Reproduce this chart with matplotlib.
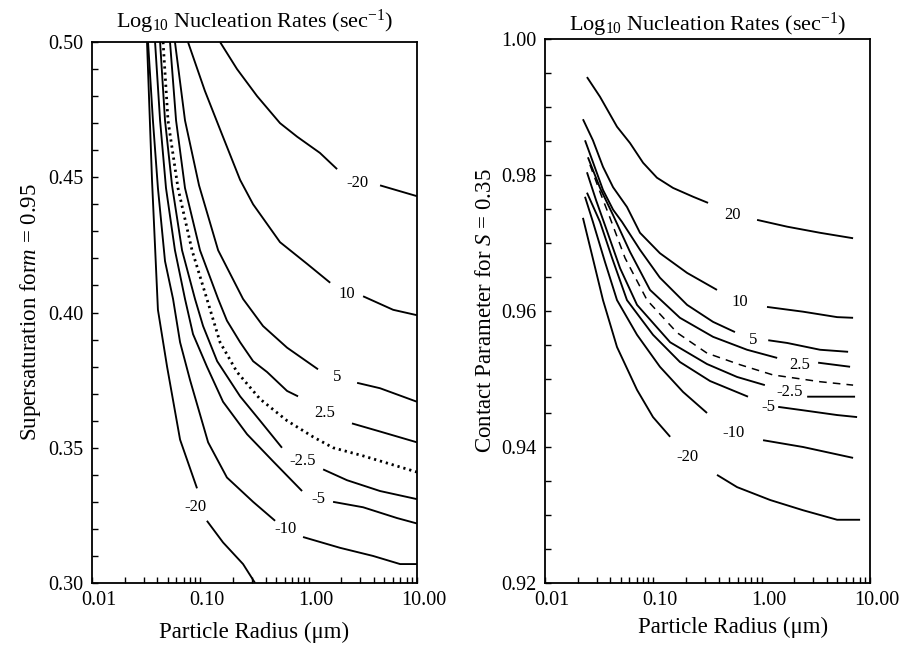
import numpy as np
import matplotlib
matplotlib.use('Agg')
import matplotlib.pyplot as plt
import matplotlib.transforms as mtransforms

plt.rcParams['font.family'] = ['Liberation Serif', 'DejaVu Serif']
plt.rcParams['mathtext.fontset'] = 'custom'
plt.rcParams['mathtext.rm'] = 'Liberation Serif'
plt.rcParams['mathtext.it'] = 'Liberation Serif:italic'
plt.rcParams['mathtext.bf'] = 'Liberation Serif:bold'

nan = np.nan

# ---------------- Left panel: supersaturation vs particle radius ----------------
L_r_m20 = [0.0322, 0.0358, 0.0406, 0.0493, 0.0650, 0.0932, nan, 0.115, 0.162, 0.248, 0.320]
L_s_m20 = [0.500, 0.449, 0.401, 0.380, 0.353, 0.335, nan, 0.323, 0.315, 0.307, 0.300]
L_r_m10 = [0.0329, 0.0365, 0.0406, 0.0472, 0.0560, 0.0650, 0.0804, 0.118, 0.176, 0.307, 0.490, nan, 0.887, 1.95, 3.93, 6.98, 10.0]
L_s_m10 = [0.500, 0.471, 0.446, 0.419, 0.405, 0.389, 0.375, 0.352, 0.339, 0.330, 0.323, nan, 0.317, 0.313, 0.310, 0.307, 0.307]
L_r_m5 = [0.0382, 0.0425, 0.0482, 0.0583, 0.0722, 0.0856, 0.115, 0.162, 0.270, 0.469, 0.869, nan, 1.68, 3.18, 6.55, 10.0]
L_s_m5 = [0.500, 0.471, 0.446, 0.423, 0.405, 0.392, 0.380, 0.367, 0.355, 0.345, 0.334, nan, 0.330, 0.328, 0.324, 0.322]
L_r_m25 = [0.0425, 0.0472, 0.0548, 0.0678, 0.0893, 0.106, 0.143, 0.233, 0.356, 0.567, nan, 1.36, 2.26, 4.56, 10.0]
L_s_m25 = [0.500, 0.471, 0.447, 0.423, 0.405, 0.395, 0.382, 0.369, 0.360, 0.350, nan, 0.342, 0.338, 0.334, 0.331]
L_r_0 = [0.0453, 0.0503, 0.0622, 0.0838, 0.115, 0.152, 0.218, 0.356, 0.632, 1.10, 1.68, 3.18, 10.0]
L_s_0 = [0.500, 0.471, 0.446, 0.423, 0.405, 0.389, 0.378, 0.368, 0.360, 0.354, 0.350, 0.347, 0.341]
L_r_p25 = [0.0525, 0.0597, 0.0722, 0.0993, 0.146, 0.176, 0.233, 0.307, 0.413, 0.632, 0.798, nan, 2.51, 4.56, 10.0]
L_s_p25 = [0.500, 0.471, 0.446, 0.423, 0.405, 0.397, 0.389, 0.382, 0.378, 0.371, 0.369, nan, 0.359, 0.356, 0.352]
L_r_p5 = [0.0583, 0.0722, 0.0973, 0.146, 0.248, 0.379, 0.632, 1.22, nan, 2.80, 4.56, 10.0]
L_s_p5 = [0.500, 0.471, 0.447, 0.423, 0.405, 0.395, 0.387, 0.379, nan, 0.374, 0.372, 0.367]
L_r_p10 = [0.0769, 0.110, 0.158, 0.233, 0.307, 0.544, 0.966, 1.58, nan, 3.18, 6.02, 10.0]
L_s_p10 = [0.500, 0.482, 0.466, 0.449, 0.440, 0.426, 0.418, 0.411, nan, 0.406, 0.401, 0.399]
L_r_p20 = [0.152, 0.218, 0.334, 0.544, 0.782, 1.27, 1.83, nan, 4.56, 10.0]
L_s_p20 = [0.500, 0.490, 0.480, 0.470, 0.465, 0.459, 0.453, nan, 0.447, 0.443]

L_label_text = ['-20', '-10', '-5', '-2.5', '2.5', '5', '10', '-20']
L_label_r = [0.0893, 0.605, 1.22, 0.887, 1.42, 1.83, 2.26, 2.80]
L_label_s = [0.328, 0.320, 0.331, 0.345, 0.363, 0.376, 0.407, 0.448]

# ---------------- Right panel: contact parameter vs particle radius ----------------
R_r_p20 = [0.0244, 0.0322, 0.0462, 0.0609, 0.0804, 0.108, 0.152, 0.233, 0.320, nan, 0.907, 1.72, 3.46, 6.98]
R_m_p20 = [0.9944, 0.9915, 0.9871, 0.9847, 0.9818, 0.9796, 0.9781, 0.9768, 0.9759, nan, 0.9734, 0.9724, 0.9715, 0.9707]
R_r_p10 = [0.0224, 0.0277, 0.0343, 0.0425, 0.0571, 0.0753, 0.115, 0.205, 0.387, nan, 1.12, 2.41, 4.97, 6.98]
R_m_p10 = [0.9882, 0.9851, 0.9812, 0.9782, 0.9753, 0.9715, 0.9685, 0.9656, 0.9631, nan, 0.9606, 0.9599, 0.9591, 0.9590]
R_r_p5 = [0.0234, 0.0277, 0.0343, 0.0425, 0.0514, 0.0753, 0.115, 0.205, 0.356, 0.567, nan, 1.15, 1.72, 3.46, 6.28]
R_m_p5 = [0.9851, 0.9819, 0.9778, 0.9749, 0.9731, 0.9690, 0.9649, 0.9609, 0.9584, 0.9569, nan, 0.9557, 0.9553, 0.9543, 0.9540]
R_r_p25 = [0.0249, 0.0322, 0.0425, 0.0609, 0.0932, 0.176, 0.356, 0.733, 1.39, nan, 3.32, 6.55]
R_m_p25 = [0.9826, 0.9781, 0.9741, 0.9687, 0.9631, 0.9590, 0.9562, 0.9543, 0.9531, nan, 0.9524, 0.9518]
R_r_0 = [0.0260, 0.0322, 0.0398, 0.0548, 0.0875, 0.166, 0.313, 0.631, 1.27, 3.46, 6.98]
R_m_0 = [0.9815, 0.9775, 0.9737, 0.9678, 0.9616, 0.9568, 0.9538, 0.9521, 0.9506, 0.9496, 0.9491]
R_r_m25 = [0.0244, 0.0296, 0.0358, 0.0493, 0.0707, 0.143, 0.313, 0.593, 1.07, nan, 2.63, 7.28]
R_m_m25 = [0.9804, 0.9763, 0.9726, 0.9663, 0.9609, 0.9554, 0.9522, 0.9503, 0.9491, nan, 0.9474, 0.9474]
R_r_m5 = [0.0244, 0.0322, 0.0416, 0.0571, 0.0993, 0.176, 0.334, 0.748, nan, 1.42, 2.41, 4.97, 7.60]
R_m_m5 = [0.9774, 0.9731, 0.9678, 0.9616, 0.9565, 0.9525, 0.9497, 0.9474, nan, 0.9459, 0.9454, 0.9447, 0.9444]
R_r_m10 = [0.0234, 0.0277, 0.0358, 0.0462, 0.0707, 0.115, 0.188, 0.313, nan, 1.03, 2.41, 6.98]
R_m_m10 = [0.9768, 0.9731, 0.9672, 0.9616, 0.9565, 0.9518, 0.9481, 0.9450, nan, 0.9410, 0.9400, 0.9384]
R_r_m20 = [0.0224, 0.0272, 0.0343, 0.0462, 0.0707, 0.0993, 0.143, nan, 0.387, 0.593, 1.20, 2.41, 4.97, 8.10]
R_m_m20 = [0.9737, 0.9682, 0.9616, 0.9547, 0.9484, 0.9444, 0.9415, nan, 0.9359, 0.9341, 0.9322, 0.9307, 0.9293, 0.9293]

R_label_text = ['20', '10', '5', '2.5', '-2.5', '-5', '-10', '-20']
R_label_r = [0.533, 0.631, 0.833, 2.26, 1.83, 1.15, 0.544, 0.205]
R_label_m = [0.9741, 0.9613, 0.9557, 0.9521, 0.9481, 0.9459, 0.9421, 0.9385]

# axis ticks
x_ticks = [0.01, 0.1, 1.0, 10.0]
x_tick_labels = ['0.01', '0.10', '1.00', '10.00']
L_y_ticks = [0.30, 0.35, 0.40, 0.45, 0.50]
L_y_tick_labels = ['0.30', '0.35', '0.40', '0.45', '0.50']
R_y_ticks = [0.92, 0.94, 0.96, 0.98, 1.00]
R_y_tick_labels = ['0.92', '0.94', '0.96', '0.98', '1.00']

title_text = 'Log$_{10}$ Nucleation Rates (sec$^{-1}$)'

fig = plt.figure(figsize=(9.03, 6.48), dpi=100)
axL = fig.add_axes([92/903, 1-583/648, 325/903, 541/648])
axR = fig.add_axes([545/903, 1-583/648, 325/903, 544/648])

solid = dict(color='black', lw=1.35, solid_capstyle='butt', solid_joinstyle='round')

for r, s in [(L_r_m20, L_s_m20), (L_r_m10, L_s_m10), (L_r_m5, L_s_m5), (L_r_m25, L_s_m25),
             (L_r_p25, L_s_p25), (L_r_p5, L_s_p5), (L_r_p10, L_s_p10), (L_r_p20, L_s_p20)]:
    axL.plot(r, s, **solid)
axL.plot(L_r_0, L_s_0, color='black', lw=2.0, linestyle=(0, (0.8, 1.4)))
for t, r, s in zip(L_label_text, L_label_r, L_label_s):
    axL.text(r, s, t, ha='center', va='center', fontsize=12)

for r, m in [(R_r_p20, R_m_p20), (R_r_p10, R_m_p10), (R_r_p5, R_m_p5), (R_r_p25, R_m_p25),
             (R_r_m25, R_m_m25), (R_r_m5, R_m_m5), (R_r_m10, R_m_m10), (R_r_m20, R_m_m20)]:
    axR.plot(r, m, **solid)
axR.plot(R_r_0, R_m_0, color='black', lw=1.1, linestyle=(0, (5, 4)))
for t, r, m in zip(R_label_text, R_label_r, R_label_m):
    axR.text(r, m, t, ha='center', va='center', fontsize=12)

offset = mtransforms.ScaledTranslation(5/72, 0, fig.dpi_scale_trans)

for ax, yt, ytl, ylim, ystep, ylab, tpad in [
        (axL, L_y_ticks, L_y_tick_labels, (0.30, 0.50), 0.01, 'Supersaturation for$\\it{m}$ = 0.95', 10),
        (axR, R_y_ticks, R_y_tick_labels, (0.92, 1.00), 0.005, 'Contact Parameter for $\\it{S}$ = 0.35', 6)]:
    ax.set_xscale('log')
    ax.set_xlim(0.01, 10.0)
    ax.set_ylim(*ylim)
    ax.set_xticks(x_ticks, x_tick_labels)
    ax.set_yticks(yt, ytl)
    ax.set_yticks(np.arange(ylim[0], ylim[1] + 1e-9, ystep), minor=True)
    ax.xaxis.set_minor_formatter(matplotlib.ticker.NullFormatter())
    ax.tick_params(which='both', direction='in', length=4, width=1.0, labelsize=14.5, color='black')
    ax.tick_params(axis='x', pad=6)
    ax.tick_params(axis='y', pad=6)
    for sp in ax.spines.values():
        sp.set_linewidth(1.3)
    for lab in ax.get_xticklabels():
        lab.set_transform(lab.get_transform() + offset)
    ax.set_title(title_text, fontsize=16, pad=tpad)
    ax.set_ylabel(ylab, fontsize=16.5, labelpad=4)

axL.set_xlabel('Particle Radius (μm)', fontsize=16.5, labelpad=8)
axR.set_xlabel('Particle Radius (μm)', fontsize=16.5, labelpad=5, x=0.58)

fig.savefig('out.png', dpi=100)
